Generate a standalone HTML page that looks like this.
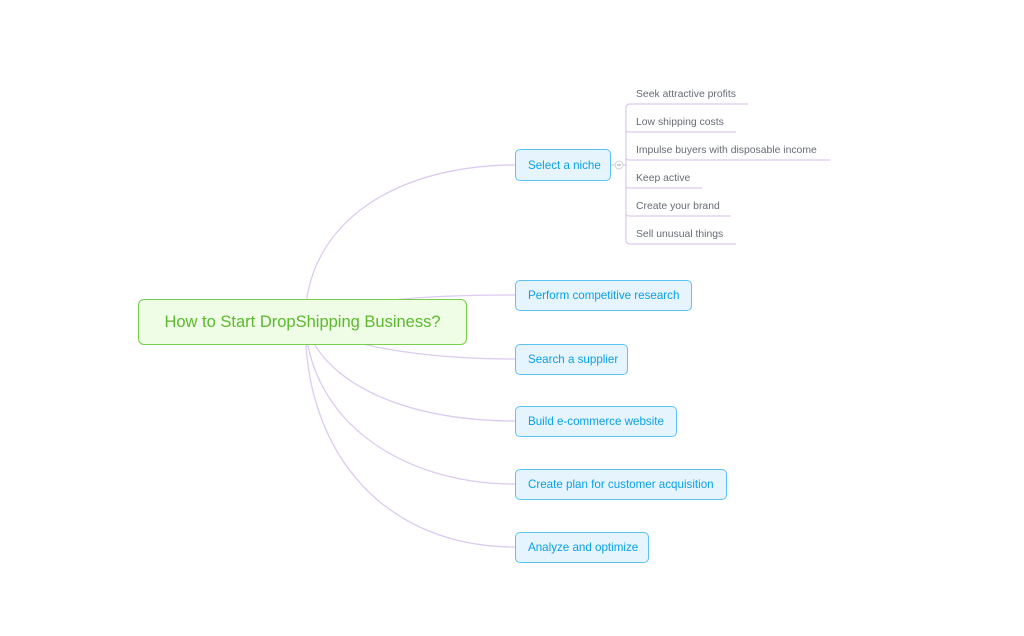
<!DOCTYPE html>
<html><head><style>
body{margin:0;width:1024px;height:636px;background:#fff;position:relative;font-family:"Liberation Sans",sans-serif;overflow:hidden}
.b{position:absolute;box-sizing:border-box;background:#e5f4fd;border:1.5px solid #5cc3f5;border-radius:5px;color:#0aa0e8;font-size:11.6px;display:flex;align-items:center;padding-left:12px;height:31px;left:515px}
.l{position:absolute;left:636px;font-size:10.4px;color:#666b75}
</style></head><body>
<svg width="1024" height="636" style="position:absolute;left:0;top:0" fill="none" stroke="#dccbf0" stroke-width="1.3">
<path d="M305,322 C305,220 400,165 515,165"/>
<path d="M305,322 C350,300 420,295 515,295"/>
<path d="M305,322 C340,345 420,359 515,359"/>
<path d="M305,322 C320,380 400,421 515,421"/>
<path d="M305,322 C310,420 400,484 515,484"/>
<path d="M305,322 C305,460 390,547 515,547"/>
<path d="M611,165 L626,165"/>
<path d="M626,165 L626,108 Q626,104 630,104 L748,104"/>
<path d="M626,130 Q626,132 630,132 L736,132"/>
<path d="M626,158 Q626,160 630,160 L830,160"/>
<path d="M626,165 L626,240 Q626,244 630,244 L736,244"/>
<path d="M626,186 Q626,188 630,188 L702,188"/>
<path d="M626,214 Q626,216 630,216 L731,216"/>
<circle cx="619" cy="165" r="4" fill="#fff" stroke="#ccc" stroke-width="0.8"/>
<path d="M617,165 L621,165" stroke="#888" stroke-width="0.8"/>
</svg>
<div style="position:absolute;left:138px;top:299px;width:329px;height:46px;box-sizing:border-box;background:#effde6;border:1.5px solid #78cf4a;border-radius:6px;color:#5cb82e;font-size:16.5px;display:flex;align-items:center;justify-content:center">How to Start DropShipping Business?</div>
<div class="b" style="top:149px;width:96px;height:32px">Select a niche</div>
<div class="b" style="top:280px;width:177px">Perform competitive research</div>
<div class="b" style="top:344px;width:113px">Search a supplier</div>
<div class="b" style="top:406px;width:162px">Build e-commerce website</div>
<div class="b" style="top:469px;width:212px">Create plan for customer acquisition</div>
<div class="b" style="top:532px;width:134px">Analyze and optimize</div>
<div class="l" style="top:89px">Seek attractive profits</div>
<div class="l" style="top:117px">Low shipping costs</div>
<div class="l" style="top:145px">Impulse buyers with disposable income</div>
<div class="l" style="top:173px">Keep active</div>
<div class="l" style="top:201px">Create your brand</div>
<div class="l" style="top:229px">Sell unusual things</div>
</body></html>
